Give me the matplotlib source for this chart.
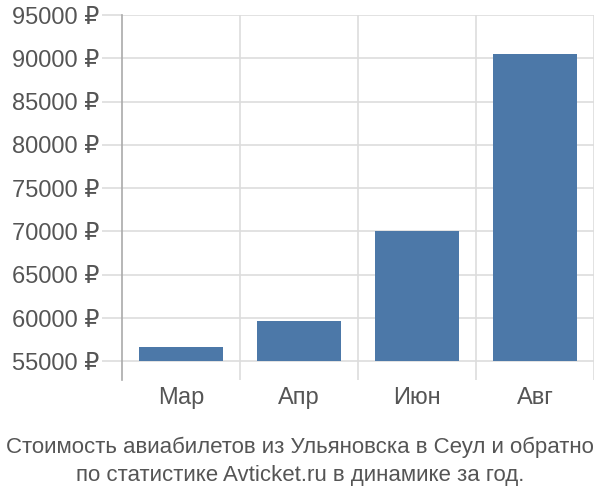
import matplotlib.pyplot as plt
from matplotlib.ticker import FixedLocator

plt.rcParams['font.family'] = ['Liberation Sans', 'DejaVu Sans']

months = ['Мар', 'Апр', 'Июн', 'Авг']
prices = [56650, 59650, 70000, 90450]
yticks = [55000, 60000, 65000, 70000, 75000, 80000, 85000, 90000, 95000]
base = 55000

grid_c = '#dddddd'
text_c = '#555555'

fig = plt.figure(figsize=(6, 5), dpi=100)
ax = fig.add_axes([0.2033, 0.24, 0.7867, 0.73])

x = range(len(months))
ax.bar(x, [p - base for p in prices], bottom=base, width=0.72,
       color='#4c78a8', zorder=3)

ax.set_xlim(-0.5, 3.5)
ax.set_ylim(52850, 95000)

ax.set_yticks(yticks)
ax.set_yticklabels([f'{v} ₽' for v in yticks])
ax.yaxis.grid(True, color=grid_c, linewidth=1.2, zorder=0)
ax.tick_params(axis='y', length=14.5, width=1.2, color=grid_c, pad=2,
               labelsize=17, labelcolor=text_c)

ax.set_xticks(list(x))
ax.set_xticklabels(months)
ax.xaxis.set_minor_locator(FixedLocator([0.5, 1.5, 2.5, 3.5]))
ax.xaxis.grid(True, which='minor', color=grid_c, linewidth=1.2, zorder=0)
ax.tick_params(axis='x', which='both', length=0, pad=5,
               labelsize=17, labelcolor=text_c)

for s in ['top', 'right', 'bottom']:
    ax.spines[s].set_visible(False)
ax.spines['left'].set_color('#aaaaaa')
ax.spines['left'].set_linewidth(1.2)

fig.text(0.5, 0.106, 'Стоимость авиабилетов из Ульяновска в Сеул и обратно',
         ha='center', va='center', fontsize=16, color=text_c)
fig.text(0.5, 0.05, 'по статистике Avticket.ru в динамике за год.',
         ha='center', va='center', fontsize=16, color=text_c)

fig.savefig('out.png', dpi=100)
